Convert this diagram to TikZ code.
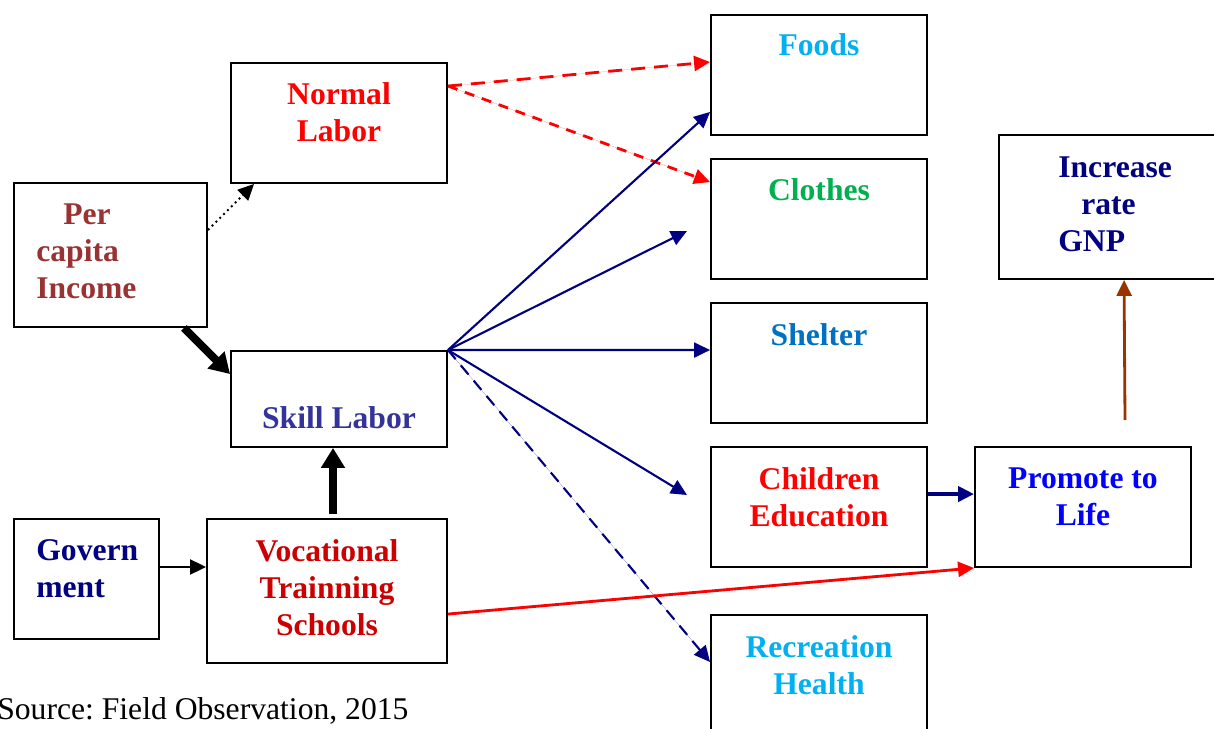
\documentclass[tikz,border=0pt]{standalone}
\usepackage{fontspec}
\setmainfont{Liberation Serif}
\usetikzlibrary{arrows.meta,calc}
\definecolor{cNL}{HTML}{FF0000}
\definecolor{cPC}{HTML}{993333}
\definecolor{cSK}{HTML}{333399}
\definecolor{cNavy}{HTML}{000080}
\definecolor{cVT}{HTML}{CC0000}
\definecolor{cFood}{HTML}{00B0F0}
\definecolor{cCloth}{HTML}{00B050}
\definecolor{cShel}{HTML}{0070C0}
\definecolor{cProm}{HTML}{0000FF}
\definecolor{cBrown}{HTML}{993300}
\begin{document}
\begin{tikzpicture}[x=0.02cm,y=-0.02cm,
  box/.style={draw=black,line width=1.1pt,inner sep=0pt},
  lbl/.style={font=\fontsize{18}{21}\selectfont\bfseries,inner sep=0pt,align=center},
  tip/.style={-{Triangle[length=0.32cm,width=0.3cm]}},
  bigtip/.style={-{Triangle[length=0.4cm,width=0.46cm]}},
  navyarrow/.style={tip,draw=cNavy,fill=cNavy,line width=1.2pt},
  redarrow/.style={tip,draw=red,fill=red,line width=1.6pt}]
\useasboundingbox (0,0) rectangle (1214,729);
% boxes
\node[box,minimum width=4.32cm,minimum height=2.4cm] (nl) at (339,123) {};
\node[box,minimum width=3.86cm,minimum height=2.88cm] (pc) at (110.5,255) {};
\node[box,minimum width=4.32cm,minimum height=1.92cm] (sk) at (339,399) {};
\node[box,minimum width=2.9cm,minimum height=2.4cm] (gv) at (86.5,579) {};
\node[box,minimum width=4.8cm,minimum height=2.88cm] (vt) at (327,591) {};
\node[box,minimum width=4.32cm,minimum height=2.4cm] (fo) at (819,75) {};
\node[box,minimum width=4.32cm,minimum height=2.4cm] (cl) at (819,219) {};
\node[box,minimum width=4.32cm,minimum height=2.4cm] (sh) at (819,363) {};
\node[box,minimum width=4.32cm,minimum height=2.4cm] (ce) at (819,507) {};
\node[box,minimum width=4.32cm,minimum height=2.64cm] (rh) at (819,681) {};
\node[box,minimum width=4.48cm,minimum height=2.88cm] (gn) at (1111,207) {};
\node[box,minimum width=4.32cm,minimum height=2.4cm] (pr) at (1083,507) {};
% labels
\node[lbl,text=cNL] (tnl) at (339,112) {Normal\\Labor};
\node[lbl,text=cPC,align=left,anchor=west] (tpc) at (36,251) {\hspace*{0.54cm}Per\\capita\\Income};
\node[lbl,text=cSK] (tsk) at (339,418) {Skill Labor};
\node[lbl,text=cNavy,align=left,anchor=west] (tgv) at (36,569) {Govern\\ment};
\node[lbl,text=cVT] (tvt) at (327,588) {Vocational\\Trainning\\Schools};
\node[lbl,text=cFood] (tfo) at (819,45) {Foods};
\node[lbl,text=cCloth] (tcl) at (819,190) {Clothes};
\node[lbl,text=cShel] (tsh) at (819,335) {Shelter};
\node[lbl,text=cNL] (tce) at (819,497) {Children\\Education};
\node[lbl,text=cFood] (trh) at (819,665) {Recreation\\Health};
\node[lbl,text=cNavy,align=left,anchor=west] (tgn) at (1058,204) {Increase\\\hspace*{0.46cm}rate\\GNP};
\node[lbl,text=cProm] (tpr) at (1083,497) {Promote to\\Life};
\node[font=\fontsize{18}{21}\selectfont\frenchspacing,inner sep=0pt,anchor=west] (src) at (-3,711) {Source:\ Field Observation, 2015};
% free-end coordinates
\coordinate (e1) at (687,231);
\coordinate (e2) at (687,495);
\coordinate (b1) at (1125,420);
% connectors
\draw[redarrow,dash pattern=on 0.28cm off 0.18cm] ($(nl.north east)+(0,24)$) -- ($(fo.north west)+(0,48)$);
\draw[redarrow,dash pattern=on 0.2cm off 0.16cm] ($(nl.north east)+(0,24)$) -- ($(cl.north west)+(0,24)$);
\draw[tip,line width=1.1pt,dotted] ($(pc.north east)+(0,48)$) -- ($(nl.south west)+(24,0)$);
\draw[bigtip,line width=4.5pt] ($(pc.south east)+(-24,0)$) -- ($(sk.north west)+(0,24)$);
\draw[bigtip,line width=4.5pt] ($(vt.north)+(6,-4)$) -- ($(sk.south)+(-6,0)$);
\draw[tip,line width=1.2pt] ($(gv.east)+(0,-12)$) -- ($(vt.west)+(0,-24)$);
\draw[navyarrow] (sk.north east) -- ($(fo.south west)+(0,-24)$);
\draw[navyarrow] (sk.north east) -- (e1);
\draw[navyarrow] (sk.north east) -- ($(sh.north west)+(0,48)$);
\draw[navyarrow] (sk.north east) -- (e2);
\draw[navyarrow,dash pattern=on 0.24cm off 0.16cm] (sk.north east) -- ($(rh.north west)+(0,48)$);
\draw[navyarrow,line width=2.4pt] ($(ce.north east)+(0,48)$) -- ($(pr.north west)+(0,48)$);
\draw[redarrow] ($(vt.north east)+(0,96)$) -- (pr.south west);
\draw[tip,draw=cBrown,fill=cBrown,line width=1.6pt] (b1) -- ($(gn.south west)+(126,0)$);
\end{tikzpicture}
\end{document}
